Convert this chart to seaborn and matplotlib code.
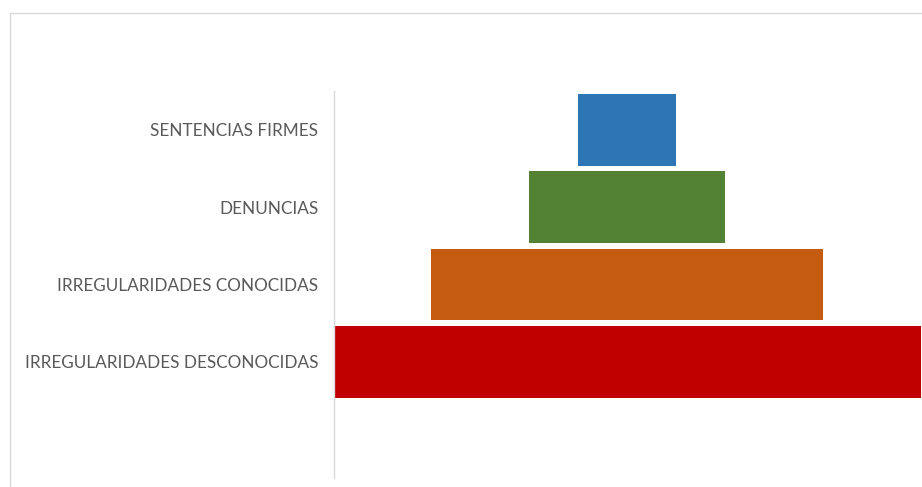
import matplotlib
matplotlib.use("Agg")
import matplotlib.pyplot as plt
from matplotlib.patches import Rectangle
import seaborn as sns

# Funnel stages, top to bottom
categories = [
    "SENTENCIAS FIRMES",
    "DENUNCIAS",
    "IRREGULARIDADES CONOCIDAS",
    "IRREGULARIDADES DESCONOCIDAS",
]
values = [1, 2, 4, 6]
colors = ["#2E75B6", "#548235", "#C55A11", "#C00000"]

sns.set_theme(style="white")
plt.rcParams["font.family"] = ["Lato", "DejaVu Sans"]

total = max(values)
offsets = [(total - v) / 2 for v in values]
right_edges = [o + v for o, v in zip(offsets, values)]

fig = plt.figure(figsize=(9.22, 4.87), dpi=100)
ax = fig.add_axes([333.5 / 922, 1 - 478 / 487, (921 - 333.5) / 922, (478 - 91) / 487])

# Coloured bars run from 0 to the right edge of each stage ...
sns.barplot(x=right_edges, y=categories, hue=categories, palette=colors,
            orient="h", width=0.93, saturation=1, legend=False, ax=ax,
            linewidth=0)
# ... and a white bar masks the left padding so each stage is centred
sns.barplot(x=offsets, y=categories, color="white", orient="h", width=0.95,
            saturation=1, ax=ax, linewidth=0)

ax.set_xlim(0, total)
ax.set_ylim(4.5, -0.5)
ax.set_xlabel("")
ax.set_ylabel("")
ax.set_xticks([])
ax.tick_params(axis="y", length=0, pad=11, labelsize=12.3, labelcolor="#595959")

for side in ["top", "right", "bottom"]:
    ax.spines[side].set_visible(False)
ax.spines["left"].set_color("#d9d9d9")
ax.spines["left"].set_linewidth(1)

# Chart-area frame
fig.patches.append(Rectangle((10 / 922, -0.05), 1.0, 1 - 12.5 / 487 + 0.05,
                             transform=fig.transFigure, fill=False,
                             edgecolor="#d9d9d9", linewidth=1, zorder=0))

fig.savefig("out.png", dpi=100, facecolor="white")
